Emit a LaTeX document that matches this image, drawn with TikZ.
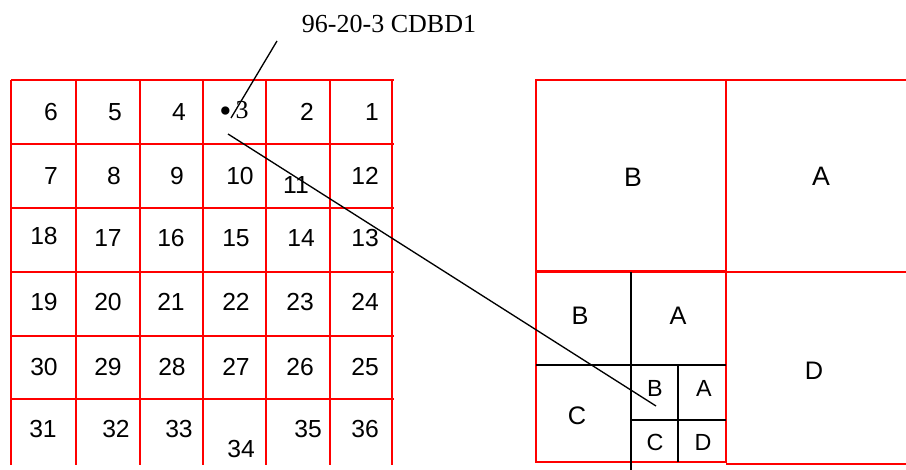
\documentclass[tikz,border=0pt]{standalone}
\usepackage{fontspec}
\setmainfont{Liberation Sans}
\newfontfamily\timesfont{Liberation Serif}

\begin{document}
\begin{tikzpicture}[
    x=0.75pt, y=-0.75pt,
    cell/.style={font=\fontsize{18.5}{20}\selectfont, inner sep=0pt},
    bigquad/.style={font=\fontsize{20}{22}\selectfont, inner sep=0pt},
    midquad/.style={font=\fontsize{19}{21}\selectfont, inner sep=0pt},
    smallquad/.style={font=\fontsize{17.5}{19}\selectfont, inner sep=0pt},
    tag/.style={font=\timesfont\fontsize{19.5}{21}\selectfont, inner sep=0pt},
    redline/.style={draw=red, line width=1.3pt},
    blackline/.style={draw=black, line width=1pt},
    pointer/.style={draw=black, line width=1pt}
]
\useasboundingbox (0,0) rectangle (906,470);

% Label on top
\node[tag] (lbl) at (389,24) {96-20-3 CDBD1};

% Grid lines of the 6x6 board
\foreach \x in {11,76,140,203,266,330,392}
  \draw[redline] (\x,80) -- (\x,465);
\foreach \y in {80,144,208,272,336,399}
  \draw[redline] (11,\y) -- (394,\y);

% Cell numbers
\foreach \n/\x/\y in {6/51/112, 5/115/112, 4/179/112, 2/307/112, 1/372/112,
    7/51/176, 8/114/176, 9/177/176, 10/240/176, 11/296/185, 12/365/176,
    18/44/236, 17/108/238, 16/171/238, 15/236/238, 14/301/238, 13/365/238,
    19/44/302, 20/108/302, 21/171/302, 22/236/302, 23/300/302, 24/365/302,
    30/44/367, 29/108/367, 28/172/367, 27/236/367, 26/300/367, 25/365/367,
    31/43/429, 32/116/429, 33/179/429, 34/241/449, 35/308/429, 36/365/429}
  \node[cell] (c\n) at (\x,\y) {\n};
\node[tag] (c3) at (234,112) {\raisebox{-3pt}{\fontsize{26}{26}\selectfont\textbullet}\kern3pt3};

% Quadrants on the right
\draw[redline] (536,80) rectangle (726,271);
\draw[redline] (906,80) -- (726,80);
\draw[redline] (726,272) -- (906,272);
\draw[redline] (536,272) rectangle (726,462);
\draw[redline] (726,464) -- (906,464);

% Subdivision of the lower left quadrant
\draw[blackline] (631,272) -- (631,470);
\draw[blackline] (536,365) -- (726,365);
\draw[blackline] (678,365) -- (678,462);
\draw[blackline] (631,420) -- (726,420);

\node[bigquad] (qB) at (633,177) {B};
\node[bigquad] (qA) at (821,176) {A};
\node[midquad] (qD) at (814,371) {D};
\node[midquad] (sB) at (580,316) {B};
\node[midquad] (sA) at (678,316) {A};
\node[midquad] (sC) at (577,416) {C};
\node[smallquad] (tB) at (655,388) {B};
\node[smallquad] (tA) at (704,388) {A};
\node[smallquad] (tC) at (655,442) {C};
\node[smallquad] (tD) at (703,442) {D};

% Pointer lines
\coordinate (lblfoot) at (277,41);
\coordinate (dotend) at (231,118);
\coordinate (cellstart) at (228,134);
\coordinate (quadend) at (656,406);
\draw[pointer] (lblfoot) -- (dotend);
\draw[pointer] (cellstart) -- (quadend);

\end{tikzpicture}
\end{document}
